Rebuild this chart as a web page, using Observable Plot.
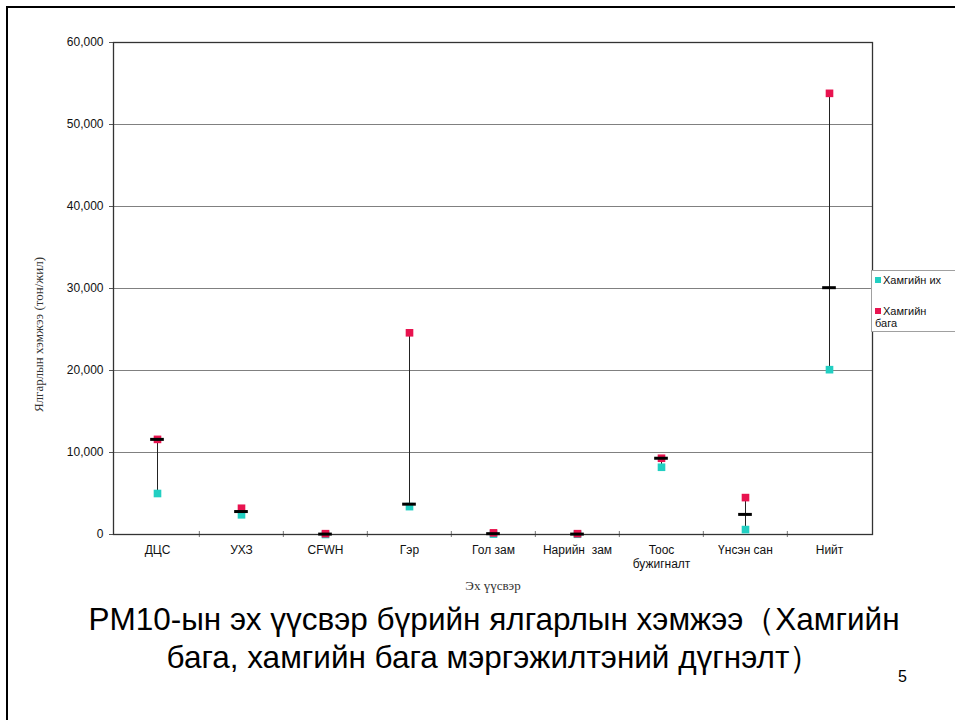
<!DOCTYPE html>
<html>
<head>
<meta charset="utf-8">
<script src="https://cdn.jsdelivr.net/npm/d3@7"></script>
<script src="https://cdn.jsdelivr.net/npm/@observablehq/plot@0.6"></script>
<style>
  html, body { margin: 0; padding: 0; background: #fff; }
  #page { position: relative; width: 955px; height: 720px; overflow: hidden; background: #fff; }
  #border { position: absolute; left: 6px; top: 6px; width: 1000px; height: 1000px; border-left: 2.5px solid #000; border-top: 2.5px solid #000; }
  #chart { position: absolute; left: 0; top: 0; }
  #legend { position: absolute; left: 871px; top: 270px; width: 100px; height: 60px; border: 1px solid #a0a0a0; background: #fff; font-family: "Liberation Sans", Arial, sans-serif; font-size: 11px; color: #111; }
  .li { position: absolute; left: 3px; line-height: 12px; }
  .sw { display: inline-block; width: 6px; height: 6px; margin-right: 2px; vertical-align: 1px; }
  #title { position: absolute; left: 40px; width: 908px; top: 600px; text-align: center; font-family: "Liberation Sans", Arial, sans-serif; font-size: 31.5px; line-height: 38px; color: #000; white-space: nowrap; }
  #pagenum { position: absolute; left: 898px; top: 668px; font-family: "Liberation Sans", Arial, sans-serif; font-size: 16px; color: #000; }
</style>
</head>
<body>
<div id="page">
  <div id="border"></div>
  <div id="chart"></div>
  <div id="legend"></div>
  <div id="title"></div>
  <div id="pagenum">5</div>
</div>
<script>
// ---- data ----
const categories = ["ДЦС", "УХЗ", "CFWH", "Гэр", "Гол зам", "Нарийн  зам", "Тоос бужигналт", "Үнсэн сан", "Нийт"];
const tickLabels = ["ДЦС", "УХЗ", "CFWH", "Гэр", "Гол зам", "Нарийн  зам", "Тоос\nбужигналт", "Үнсэн сан", "Нийт"];
const valuesIh   = [5000, 2400, 0, 3400, 50, 30, 8200, 600, 20100];          // cyan: "Хамгийн их"
const valuesBaga = [11600, 3200, 100, 24600, 200, 100, 9300, 4500, 53800];  // red: "Хамгийн бага"
const valuesExpert = [11600, 2800, 50, 3700, 100, 50, 9300, 2450, 30100];   // black dash
const yTicks = [0, 10000, 20000, 30000, 40000, 50000, 60000];
const seriesNames = ["Хамгийн их", "Хамгийн бага"];
const seriesColors = ["#22cfc2", "#e8134f"];
const yLabel = "Ялгарлын хэмжээ (тон/жил)";
const xLabel = "Эх үүсвэр";
const titleLines = ["PM10-ын эх үүсвэр бүрийн ялгарлын хэмжээ（Хамгийн", "бага, хамгийн бага мэргэжилтэний дүгнэлт）"];

// ---- table ----
const rows = categories.map((c, i) => ({
  cat: c, ih: valuesIh[i], baga: valuesBaga[i], expert: valuesExpert[i],
  lo: Math.min(valuesIh[i], valuesBaga[i], valuesExpert[i]),
  hi: Math.max(valuesIh[i], valuesBaga[i], valuesExpert[i])
}));

const W = 955, H = 600, mL = 113, mR = 83, mT = 42, mB = 66;
const bw = (W - mL - mR) / categories.length;
const labelOf = new Map(categories.map((c, i) => [c, tickLabels[i]]));

const sans = "Liberation Sans, Arial, sans-serif";
const serif = "Liberation Serif, Times New Roman, serif";

const chart = Plot.plot({
  width: W, height: H,
  marginLeft: mL, marginRight: mR, marginTop: mT, marginBottom: mB,
  style: { fontFamily: sans, fontSize: "12px", color: "#111", background: "transparent" },
  x: { type: "band", domain: categories, padding: 0 },
  y: { domain: [0, 60000] },
  marks: [
    Plot.gridY(yTicks, { stroke: "#808080", strokeOpacity: 1, strokeWidth: 1 }),
    Plot.axisY(yTicks, { tickFormat: d3.format(","), tickSize: 4, tickPadding: 6, stroke: "#555", label: null, fontSize: 12 }),
    Plot.axisX({ tickSize: 0, tickPadding: 9, tickFormat: d => labelOf.get(d), label: null, fontSize: 12, lineHeight: 1.2 }),
    Plot.ruleX(categories.slice(1), { x: d => d, y1: 0, y2: 0, dx: -bw / 2, insetTop: -3, insetBottom: -3, stroke: "#777" }),
    Plot.frame({ stroke: "#333", strokeWidth: 1.3 }),
    Plot.ruleX(rows, { x: "cat", y1: "lo", y2: "hi", stroke: "#222", strokeWidth: 1 }),
    Plot.dot(rows, { x: "cat", y: "ih", symbol: "square", r: 4.3, fill: seriesColors[0], stroke: "none" }),
    Plot.dot(rows, { x: "cat", y: "baga", symbol: "square", r: 4.3, fill: seriesColors[1], stroke: "none" }),
    Plot.tickY(rows, { x: "cat", y: "expert", stroke: "#000", strokeWidth: 3, insetLeft: (bw - 14) / 2, insetRight: (bw - 14) / 2 }),
    Plot.text([yLabel], { frameAnchor: "left", textAnchor: "middle", rotate: -90, dx: -75, dy: 46, fontFamily: serif, fontSize: 13, fill: "#333" }),
    Plot.text([xLabel], { frameAnchor: "bottom", textAnchor: "middle", dy: 55, fontFamily: serif, fontSize: 13, fill: "#333" })
  ]
});
document.getElementById("chart").appendChild(chart);

// legend
const legend = document.getElementById("legend");
const tops = [3, 34];
const legendTexts = ["Хамгийн их", "Хамгийн<br>бага"];
seriesNames.forEach((n, i) => {
  const d = document.createElement("div");
  d.className = "li";
  d.style.top = (tops[i]) + "px";
  d.innerHTML = `<span class="sw" style="background:${seriesColors[i]}"></span>${legendTexts[i]}`;
  legend.appendChild(d);
});

document.getElementById("title").innerHTML = titleLines.join("<br>");
</script>
</body>
</html>
